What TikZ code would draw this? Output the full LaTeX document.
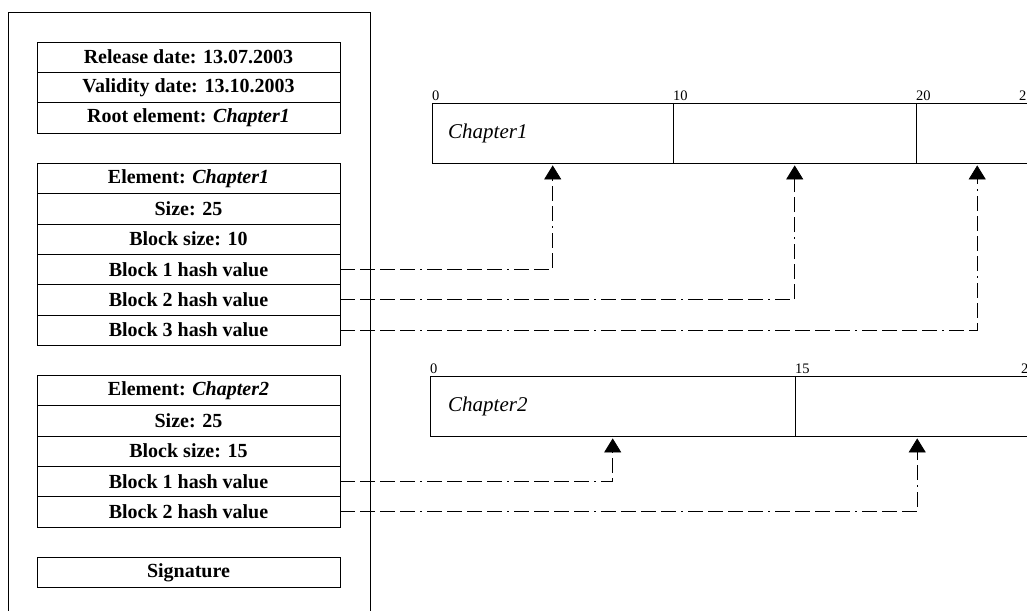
\documentclass[tikz,border=0pt]{standalone}
\usepackage{fontspec}
\setmainfont{Liberation Serif}
\usetikzlibrary{arrows.meta,positioning}

\begin{document}
\begin{tikzpicture}[
  x=1pt, y=-1pt,
  font=\fontsize{20}{22}\selectfont,
  row/.style={draw, minimum width=303pt, minimum height=30.3pt, inner sep=0pt, font=\bfseries\fontsize{20}{22}\selectfont},
  seg/.style={draw, anchor=north west, minimum height=60pt, inner sep=0pt},
  tick/.style={anchor=south west, inner xsep=0pt, inner ysep=2pt, font=\fontsize{14.5}{16}\selectfont},
  chap/.style={anchor=west, inner sep=0pt, font=\itshape\fontsize{21}{24}\selectfont},
  ar/.style={-{Triangle[length=14pt, width=17pt]}, shorten >=2pt, line width=0.8pt,
    dash pattern=on 15pt off 5pt on 15pt off 5pt on 15pt off 5pt on 15pt off 5pt on 2pt off 5pt},
]
\useasboundingbox (0,0) rectangle (1027,610);
\clip (0,0) rectangle (1027,610);

\node[draw, anchor=north west, minimum width=362pt, minimum height=640pt] (frame) at (8,12) {};

% document header
\node[row] (rel)  at (188.5,57.2)  {Release date: 13.07.2003};
\node[row] (val)  at (188.5,87.5)  {Validity date: 13.10.2003};
\node[row] (root) at (188.5,117.8) {Root element: \textit{Chapter1}};

% first element
\node[row] (el1)   at (188.5,178.4) {Element: \textit{Chapter1}};
\node[row] (size1) at (188.5,208.7) {Size: 25};
\node[row] (bs1)   at (188.5,239.0) {Block size: 10};
\node[row] (h11)   at (188.5,269.3) {Block 1 hash value};
\node[row] (h12)   at (188.5,299.6) {Block 2 hash value};
\node[row] (h13)   at (188.5,329.9) {Block 3 hash value};

% second element
\node[row] (el2)   at (188.5,390.5) {Element: \textit{Chapter2}};
\node[row] (size2) at (188.5,420.8) {Size: 25};
\node[row] (bs2)   at (188.5,451.1) {Block size: 15};
\node[row] (h21)   at (188.5,481.4) {Block 1 hash value};
\node[row] (h22)   at (188.5,511.7) {Block 2 hash value};

\node[row] (sig) at (188.5,572.3) {Signature};

% blocks of Chapter1
\node[seg, minimum width=241pt] (c1a) at (432,103) {};
\node[seg, minimum width=243pt] (c1b) at (673,103) {};
\node[seg, minimum width=122pt] (c1c) at (916,103) {};
\node[chap] (n1) at (448,133) {Chapter1};
\node[tick] (t10) at (c1a.north west) {0};
\node[tick] (t11) at (c1b.north west) {10};
\node[tick] (t12) at (c1c.north west) {20};
\node[tick] (t13) at (1019,103) {25};

% blocks of Chapter2
\node[seg, minimum width=365pt] (c2a) at (430,376) {};
\node[seg, minimum width=244pt] (c2b) at (795,376) {};
\node[chap] (n2) at (448,406) {Chapter2};
\node[tick] (t20) at (c2a.north west) {0};
\node[tick] (t21) at (c2b.north west) {15};
\node[tick] (t22) at (1021,376) {25};

\draw[ar] (h11.east) -| (c1a.south);
\draw[ar] (h12.east) -| (c1b.south);
\draw[ar] (h13.east) -| (c1c.south);
\draw[ar] (h21.east) -| (c2a.south);
\draw[ar] (h22.east) -| (c2b.south);
\end{tikzpicture}
\end{document}
